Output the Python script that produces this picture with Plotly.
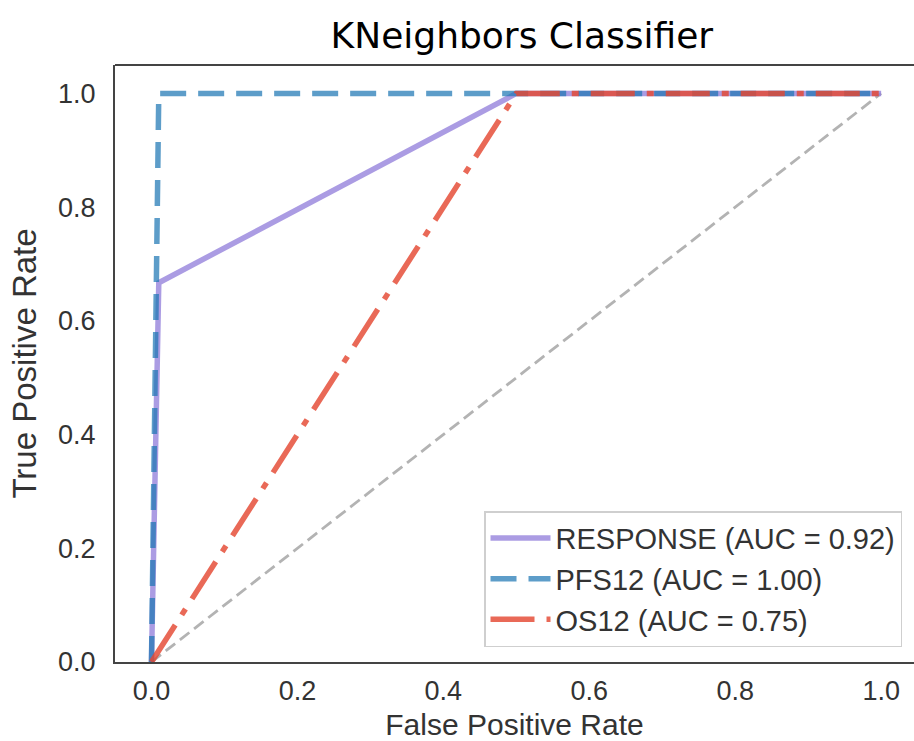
import plotly.graph_objects as go

# ROC data
resp_fpr = [0.0, 0.01, 0.5, 1.0]
resp_tpr = [0.0, 0.667, 1.0, 1.0]
pfs_fpr = [0.0, 0.01, 1.0]
pfs_tpr = [0.0, 1.0, 1.0]
os_fpr = [0.0, 0.5, 1.0]
os_tpr = [0.0, 1.0, 1.0]
diag = [0.0, 1.0]
names = ["RESPONSE (AUC = 0.92)", "PFS12 (AUC = 1.00)", "OS12 (AUC = 0.75)"]
x_ticks = [0.0, 0.2, 0.4, 0.6, 0.8, 1.0]
y_ticks = [0.0, 0.2, 0.4, 0.6, 0.8, 1.0]

fig = go.Figure()
fig.add_trace(go.Scatter(x=diag, y=diag, mode="lines", showlegend=False,
                         line=dict(color="#b3b3b3", width=2.8, dash="12px,6px")))
fig.add_trace(go.Scatter(x=resp_fpr, y=resp_tpr, mode="lines", name=names[0],
                         line=dict(color="rgba(147,128,219,0.78)", width=5.5)))
fig.add_trace(go.Scatter(x=pfs_fpr, y=pfs_tpr, mode="lines", name=names[1],
                         line=dict(color="rgba(31,119,180,0.72)", width=5.5, dash="26px,12px")))
fig.add_trace(go.Scatter(x=os_fpr, y=os_tpr, mode="lines", name=names[2],
                         line=dict(color="rgba(228,72,50,0.82)", width=5.5, dash="44px,12px,7px,12px")))

fam = "Liberation Sans, Arial, sans-serif"
tick_font = dict(family=fam, size=27, color="#333333")
fig.update_layout(
    width=914, height=741,
    margin=dict(l=115, r=0, t=65, b=79, autoexpand=False),
    paper_bgcolor="white", plot_bgcolor="white",
    title=dict(text="KNeighbors Classifier", x=0.571, xanchor="center", y=0.952, yanchor="middle",
               font=dict(family="DejaVu Sans, sans-serif", size=36, color="black")),
    xaxis=dict(range=[-0.05, 1.045], tickvals=x_ticks, ticktext=[f"{v:.1f}" for v in x_ticks],
               showgrid=False, zeroline=False, showline=True, linecolor="#444444", linewidth=2,
               ticks="", tickfont=tick_font, ticklabelstandoff=4, automargin=False,
               title=dict(text="False Positive Rate", font=dict(family=fam, size=30, color="#333333"), standoff=11)),
    yaxis=dict(range=[0, 1.05], tickvals=y_ticks, ticktext=[f"{v:.1f}" for v in y_ticks],
               showgrid=False, zeroline=False, showline=True, linecolor="#444444", linewidth=2,
               ticks="", tickfont=tick_font, ticklabelstandoff=12, automargin=False,
               title=dict(text="True Positive Rate", font=dict(family=fam, size=33, color="#333333"), standoff=12)),
    legend=dict(x=0.985, y=0.025, xanchor="right", yanchor="bottom",
                bgcolor="white", bordercolor="#cfcfcf", borderwidth=1.5,
                font=dict(family=fam, size=29, color="#333333"),
                tracegroupgap=0, itemwidth=60),
    shapes=[dict(type="line", xref="paper", yref="paper", x0=0, x1=1, y0=1, y1=1,
                 line=dict(color="#444444", width=2))],
)
fig.write_html("out.html", config={"displayModeBar": False},
               post_script="document.body.style.margin='0';")
